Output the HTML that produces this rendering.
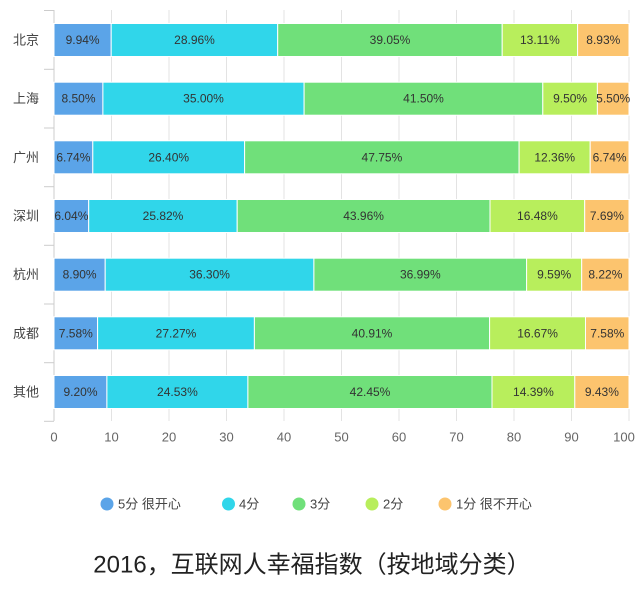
<!DOCTYPE html>
<html><head><meta charset="utf-8"><style>
html,body{margin:0;padding:0;background:#fff;}
svg{display:block;font-family:"Liberation Sans","Noto Sans CJK SC",sans-serif;}
</style></head><body>
<svg width="640" height="596" viewBox="0 0 640 596" xmlns="http://www.w3.org/2000/svg">
<g stroke="#e3e3e3" stroke-width="1">
<line x1="111.5" y1="10" x2="111.5" y2="421"/><line x1="169" y1="10" x2="169" y2="421"/><line x1="226.5" y1="10" x2="226.5" y2="421"/><line x1="284" y1="10" x2="284" y2="421"/><line x1="341.5" y1="10" x2="341.5" y2="421"/><line x1="399" y1="10" x2="399" y2="421"/><line x1="456.5" y1="10" x2="456.5" y2="421"/><line x1="514" y1="10" x2="514" y2="421"/><line x1="571.5" y1="10" x2="571.5" y2="421"/><line x1="629" y1="10" x2="629" y2="421"/>
</g>
<g stroke="#ccc" stroke-width="1">
<line x1="54" y1="10" x2="54" y2="421"/>
<line x1="44" y1="10.5" x2="54" y2="10.5"/><line x1="44" y1="69.3" x2="54" y2="69.3"/><line x1="44" y1="128" x2="54" y2="128"/><line x1="44" y1="186.7" x2="54" y2="186.7"/><line x1="44" y1="245.3" x2="54" y2="245.3"/><line x1="44" y1="304" x2="54" y2="304"/><line x1="44" y1="362.7" x2="54" y2="362.7"/><line x1="44" y1="421.3" x2="54" y2="421.3"/>
</g>
<g stroke="#fff" stroke-width="1">
<!-- 北京 -->
<rect x="54" y="23.5" width="57.2" height="33" fill="#5ba4e8"/><rect x="111.2" y="23.5" width="166.5" height="33" fill="#30d6ea"/><rect x="277.7" y="23.5" width="224.5" height="33" fill="#70e07a"/><rect x="502.2" y="23.5" width="75.4" height="33" fill="#b8ee5c"/><rect x="577.6" y="23.5" width="51.4" height="33" fill="#fcc46e"/>
<!-- 上海 -->
<rect x="54" y="82.2" width="48.9" height="33" fill="#5ba4e8"/><rect x="102.9" y="82.2" width="201.2" height="33" fill="#30d6ea"/><rect x="304.1" y="82.2" width="238.7" height="33" fill="#70e07a"/><rect x="542.8" y="82.2" width="54.6" height="33" fill="#b8ee5c"/><rect x="597.4" y="82.2" width="31.6" height="33" fill="#fcc46e"/>
<!-- 广州 -->
<rect x="54" y="140.8" width="38.8" height="33" fill="#5ba4e8"/><rect x="92.8" y="140.8" width="151.8" height="33" fill="#30d6ea"/><rect x="244.6" y="140.8" width="274.5" height="33" fill="#70e07a"/><rect x="519.1" y="140.8" width="71.1" height="33" fill="#b8ee5c"/><rect x="590.2" y="140.8" width="38.8" height="33" fill="#fcc46e"/>
<!-- 深圳 -->
<rect x="54" y="199.5" width="34.7" height="33" fill="#5ba4e8"/><rect x="88.7" y="199.5" width="148.5" height="33" fill="#30d6ea"/><rect x="237.2" y="199.5" width="252.8" height="33" fill="#70e07a"/><rect x="490" y="199.5" width="94.7" height="33" fill="#b8ee5c"/><rect x="584.7" y="199.5" width="44.3" height="33" fill="#fcc46e"/>
<!-- 杭州 -->
<rect x="54" y="258.2" width="51.2" height="33" fill="#5ba4e8"/><rect x="105.2" y="258.2" width="208.7" height="33" fill="#30d6ea"/><rect x="313.9" y="258.2" width="212.7" height="33" fill="#70e07a"/><rect x="526.6" y="258.2" width="55.1" height="33" fill="#b8ee5c"/><rect x="581.7" y="258.2" width="47.3" height="33" fill="#fcc46e"/>
<!-- 成都 -->
<rect x="54" y="316.8" width="43.6" height="33" fill="#5ba4e8"/><rect x="97.6" y="316.8" width="156.8" height="33" fill="#30d6ea"/><rect x="254.4" y="316.8" width="235.2" height="33" fill="#70e07a"/><rect x="489.6" y="316.8" width="95.9" height="33" fill="#b8ee5c"/><rect x="585.5" y="316.8" width="43.5" height="33" fill="#fcc46e"/>
<!-- 其他 -->
<rect x="54" y="375.5" width="52.9" height="33" fill="#5ba4e8"/><rect x="106.9" y="375.5" width="141" height="33" fill="#30d6ea"/><rect x="247.9" y="375.5" width="244.1" height="33" fill="#70e07a"/><rect x="492" y="375.5" width="82.8" height="33" fill="#b8ee5c"/><rect x="574.8" y="375.5" width="54.2" height="33" fill="#fcc46e"/>
</g>
<g font-size="12" fill="#333" text-anchor="middle" dominant-baseline="central">
<text x="82.6" y="40">9.94%</text><text x="194.5" y="40">28.96%</text><text x="390" y="40">39.05%</text><text x="539.9" y="40">13.11%</text><text x="603.3" y="40">8.93%</text>
<text x="78.5" y="98.7">8.50%</text><text x="203.5" y="98.7">35.00%</text><text x="423.5" y="98.7">41.50%</text><text x="570.1" y="98.7">9.50%</text><text x="613.2" y="98.7">5.50%</text>
<text x="73.4" y="157.3">6.74%</text><text x="168.7" y="157.3">26.40%</text><text x="381.9" y="157.3">47.75%</text><text x="554.7" y="157.3">12.36%</text><text x="609.6" y="157.3">6.74%</text>
<text x="71.4" y="216">6.04%</text><text x="163" y="216">25.82%</text><text x="363.6" y="216">43.96%</text><text x="537.4" y="216">16.48%</text><text x="606.9" y="216">7.69%</text>
<text x="79.6" y="274.7">8.90%</text><text x="209.6" y="274.7">36.30%</text><text x="420.3" y="274.7">36.99%</text><text x="554.2" y="274.7">9.59%</text><text x="605.4" y="274.7">8.22%</text>
<text x="75.8" y="333.3">7.58%</text><text x="176" y="333.3">27.27%</text><text x="372" y="333.3">40.91%</text><text x="537.6" y="333.3">16.67%</text><text x="607.3" y="333.3">7.58%</text>
<text x="80.5" y="392">9.20%</text><text x="177.4" y="392">24.53%</text><text x="370" y="392">42.45%</text><text x="533.4" y="392">14.39%</text><text x="601.9" y="392">9.43%</text>
</g>
<g font-size="13" fill="#444" text-anchor="end" dominant-baseline="central">
<text x="39" y="40">北京</text><text x="39" y="98.7">上海</text><text x="39" y="157.3">广州</text><text x="39" y="216">深圳</text><text x="39" y="274.7">杭州</text><text x="39" y="333.3">成都</text><text x="39" y="392">其他</text>
</g>
<g font-size="13" fill="#666" text-anchor="middle" dominant-baseline="central">
<text x="54" y="437">0</text><text x="111.5" y="437">10</text><text x="169" y="437">20</text><text x="226.5" y="437">30</text><text x="284" y="437">40</text><text x="341.5" y="437">50</text><text x="399" y="437">60</text><text x="456.5" y="437">70</text><text x="514" y="437">80</text><text x="571.5" y="437">90</text><text x="624" y="437">100</text>
</g>
<g font-size="13" fill="#444" dominant-baseline="central">
<circle cx="107" cy="504" r="6.5" fill="#5ba4e8"/><text x="118" y="504">5分 很开心</text>
<circle cx="228.5" cy="504" r="6.5" fill="#30d6ea"/><text x="239" y="504">4分</text>
<circle cx="299" cy="504" r="6.5" fill="#70e07a"/><text x="310" y="504">3分</text>
<circle cx="372" cy="504" r="6.5" fill="#b8ee5c"/><text x="383" y="504">2分</text>
<circle cx="445" cy="504" r="6.5" fill="#fcc46e"/><text x="456" y="504">1分 很不开心</text>
</g>
<text x="312" y="565" font-size="24" fill="#222" text-anchor="middle" dominant-baseline="central">2016，互联网人幸福指数（按地域分类）</text>
</svg>
</body></html>
